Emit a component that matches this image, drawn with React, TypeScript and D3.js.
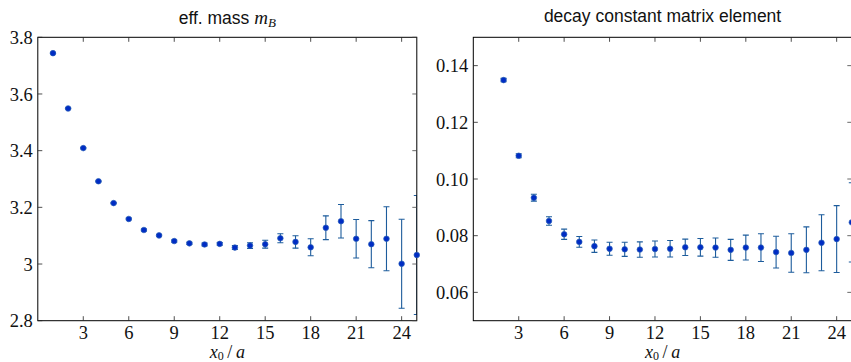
import React from "react";
import * as d3 from "d3";

// ---- data ----
const massX = [1, 2, 3, 4, 5, 6, 7, 8, 9, 10, 11, 12, 13, 14, 15, 16, 17, 18, 19, 20, 21, 22, 23, 24, 25];
const massValues = [3.744, 3.549, 3.409, 3.292, 3.215, 3.159, 3.12, 3.101, 3.081, 3.073, 3.069, 3.071, 3.058, 3.065, 3.07, 3.091, 3.078, 3.059, 3.128, 3.151, 3.089, 3.07, 3.089, 3.001, 3.032];
const massErrors = [0.002, 0.002, 0.002, 0.002, 0.002, 0.003, 0.003, 0.003, 0.004, 0.004, 0.005, 0.005, 0.007, 0.010, 0.014, 0.016, 0.022, 0.03, 0.042, 0.059, 0.068, 0.083, 0.113, 0.157, 0.21];

const decayX = [2, 3, 4, 5, 6, 7, 8, 9, 10, 11, 12, 13, 14, 15, 16, 17, 18, 19, 20, 21, 22, 23, 24, 25];
const decayValues = [0.1349, 0.1082, 0.0934, 0.0852, 0.0805, 0.0778, 0.0763, 0.0754, 0.0752, 0.0751, 0.0753, 0.0754, 0.0759, 0.0759, 0.0758, 0.075, 0.0758, 0.0758, 0.0742, 0.0739, 0.075, 0.0775, 0.0788, 0.0847];
const decayErrors = [0.0006, 0.0007, 0.0012, 0.0015, 0.0018, 0.0019, 0.0022, 0.0023, 0.0025, 0.0027, 0.0028, 0.0029, 0.0029, 0.0031, 0.0034, 0.0037, 0.0044, 0.0049, 0.0056, 0.0068, 0.0081, 0.0099, 0.0118, 0.014];

const xTicks = [3, 6, 9, 12, 15, 18, 21, 24];
const massTicks = [2.8, 3.0, 3.2, 3.4, 3.6, 3.8];
const massTickLabels = ["2.8", "3", "3.2", "3.4", "3.6", "3.8"];
const decayTicks = [0.06, 0.08, 0.1, 0.12, 0.14];
const decayTickLabels = ["0.06", "0.08", "0.10", "0.12", "0.14"];

const W = 851;
const H = 362;
const TOP = 37.3;
const BOTTOM = 320.7;
const TICK = 4.5;
const SERIF = "'Liberation Serif', 'DejaVu Serif', serif";
const SANS = "'Liberation Sans', Arial, sans-serif";
const ERR_COLOR = "#1d5c9c";
const DOT_FILL = "#002cc4";
const DOT_STROKE = "#2a60b8";

type PanelProps = {
  id: string;
  left: number;
  right: number;
  xs: number[];
  ys: number[];
  errs: number[];
  yDomain: [number, number];
  yTicks: number[];
  yTickLabels: string[];
  title: React.ReactNode;
  titleY: number;
};

function Panel({ id, left, right, xs, ys, errs, yDomain, yTicks, yTickLabels, title, titleY }: PanelProps) {
  const x = d3.scaleLinear().domain([0, 25]).range([left, right]);
  const y = d3.scaleLinear().domain(yDomain).range([BOTTOM, TOP]);
  const cx = (left + right) / 2;
  const cap = 3;
  return (
    <g>
      <defs>
        <clipPath id={id}>
          <rect x={left} y={TOP} width={right - left} height={BOTTOM - TOP} />
        </clipPath>
      </defs>
      <text x={cx} y={titleY} textAnchor="middle" fontFamily={SANS} fontSize={17.5} fill="#111">
        {title}
      </text>
      <g clipPath={`url(#${id})`} stroke={ERR_COLOR} strokeWidth={1.1} fill="none">
        {xs.map((xv, i) => {
          const px = x(xv);
          const y1 = y(ys[i] + errs[i]);
          const y2 = y(ys[i] - errs[i]);
          return (
            <g key={i}>
              <line x1={px} x2={px} y1={y1} y2={y2} />
              <line x1={px - cap} x2={px + cap} y1={y1} y2={y1} />
              <line x1={px - cap} x2={px + cap} y1={y2} y2={y2} />
            </g>
          );
        })}
      </g>
      <rect x={left} y={TOP} width={right - left} height={BOTTOM - TOP} fill="none" stroke="#000" strokeWidth={1} />
      {xTicks.map((t) => (
        <g key={`xt${t}`}>
          <line x1={x(t)} x2={x(t)} y1={BOTTOM} y2={BOTTOM - TICK} stroke="#222" strokeWidth={0.8} />
          <line x1={x(t)} x2={x(t)} y1={TOP} y2={TOP + TICK} stroke="#222" strokeWidth={0.8} />
          <text x={x(t)} y={338.5} textAnchor="middle" fontFamily={SERIF} fontSize={18.5} fill="#111">
            {t}
          </text>
        </g>
      ))}
      {yTicks.map((t, i) => (
        <g key={`yt${i}`}>
          <line x1={left} x2={left + TICK} y1={y(t)} y2={y(t)} stroke="#222" strokeWidth={0.8} />
          <line x1={right} x2={right - TICK} y1={y(t)} y2={y(t)} stroke="#444" strokeWidth={0.8} />
          <text x={left - 5} y={y(t)} dy="0.36em" textAnchor="end" fontFamily={SERIF} fontSize={18.5} fill="#111">
            {yTickLabels[i]}
          </text>
        </g>
      ))}
      {xs.map((xv, i) => (
        <circle key={`m${i}`} cx={x(xv)} cy={y(ys[i])} r={2.8} fill={DOT_FILL} stroke={DOT_STROKE} strokeWidth={0.7} />
      ))}
      <text x={cx} y={357.5} textAnchor="middle" fontFamily={SERIF} fontSize={18} fontStyle="italic" fill="#111">
        x
        <tspan fontSize={12} dy={2.5} fontStyle="normal">0</tspan>
        <tspan dy={-2.5} fontStyle="normal">{"\u2009/\u2009"}</tspan>
        <tspan>a</tspan>
      </text>
    </g>
  );
}

export default function App() {
  return (
    <svg
      width={W}
      height={H}
      viewBox={`0 0 ${W} ${H}`}
      style={{ position: "absolute", left: 0, top: 0, display: "block", background: "#fff" }}
    >
      <rect x={0} y={0} width={W} height={H} fill="#fff" />
      <Panel
        id="clipL"
        left={37.8}
        right={416.8}
        xs={massX}
        ys={massValues}
        errs={massErrors}
        yDomain={[2.8, 3.8]}
        yTicks={massTicks}
        yTickLabels={massTickLabels}
        titleY={23.5}
        title={
          <>
            {"eff. mass "}
            <tspan fontFamily={SERIF} fontStyle="italic" fontSize={19}>m</tspan>
            <tspan fontFamily={SERIF} fontStyle="italic" fontSize={13} dy={3}>B</tspan>
          </>
        }
      />
      <Panel
        id="clipR"
        left={473.3}
        right={851.8}
        xs={decayX}
        ys={decayValues}
        errs={decayErrors}
        yDomain={[0.05, 0.15]}
        yTicks={decayTicks}
        yTickLabels={decayTickLabels}
        titleY={21.5}
        title={"decay constant matrix element"}
      />
    </svg>
  );
}
